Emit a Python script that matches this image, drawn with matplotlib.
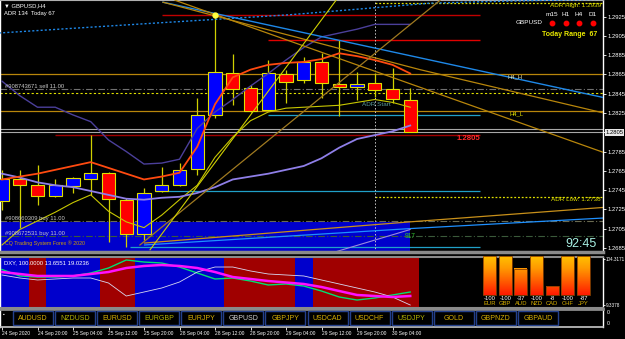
import matplotlib
matplotlib.use("Agg")
import matplotlib.pyplot as plt
import numpy as np
from matplotlib.patches import Rectangle
from matplotlib.colors import LinearSegmentedColormap

plt.rcParams['font.family'] = ['Liberation Sans', 'DejaVu Sans']

W, H = 625, 339
X0, BAR_PX = 2.0, 17.75   # pixel centre of bar 0 and bar spacing

# ---------------- GBPUSD H4 (bar 0 = 24 Sep 12:00) ----------------
opens  = [1.2734, 1.2756, 1.2750, 1.2739, 1.2749, 1.2756, 1.2763, 1.2735, 1.2699, 1.2744, 1.2750, 1.2767,
          1.2823, 1.2867, 1.2851, 1.2828, 1.2865, 1.2859, 1.2878, 1.2855, 1.2852, 1.2856, 1.2850, 1.2839]
highs  = [1.2766, 1.2766, 1.2771, 1.2756, 1.2759, 1.2802, 1.2764, 1.2737, 1.2747, 1.2769, 1.2773, 1.2841,
          1.2927, 1.2886, 1.2854, 1.2880, 1.2870, 1.2883, 1.2887, 1.2901, 1.2868, 1.2867, 1.2872, 1.2851]
lows   = [1.2724, 1.2706, 1.2730, 1.2738, 1.2742, 1.2740, 1.2691, 1.2686, 1.2693, 1.2743, 1.2749, 1.2761,
          1.2820, 1.2833, 1.2826, 1.2827, 1.2835, 1.2856, 1.2841, 1.2822, 1.2839, 1.2842, 1.2835, 1.2805]
closes = [1.2756, 1.2750, 1.2739, 1.2750, 1.2757, 1.2763, 1.2736, 1.2699, 1.2742, 1.2750, 1.2766, 1.2823,
          1.2868, 1.2850, 1.2827, 1.2866, 1.2857, 1.2878, 1.2856, 1.2852, 1.2855, 1.2849, 1.2840, 1.2805]

ma_orange  = [1.2756, 1.2759, 1.2762, 1.2766, 1.2770, 1.2774, 1.2768, 1.2762, 1.2756, 1.2759, 1.2763, 1.2790,
              1.2834, 1.2862, 1.2870, 1.2875, 1.2877, 1.2878, 1.2881, 1.2887, 1.2884, 1.2880, 1.2875, 1.2866]
band_upper = [1.2858, 1.2843, 1.2831, 1.2831, 1.2823, 1.2816, 1.2797, 1.2785, 1.2772, 1.2773, 1.2777, 1.2809,
              1.2826, 1.2839, 1.2853, 1.2866, 1.2880, 1.2893, 1.2904, 1.2908, 1.2912, 1.2917, 1.2917, 1.2917]
band_lower = [1.2762, 1.2758, 1.2753, 1.2750, 1.2748, 1.2744, 1.2740, 1.2736, 1.2735, 1.2737, 1.2738, 1.2742,
              1.2748, 1.2756, 1.2759, 1.2762, 1.2766, 1.2770, 1.2778, 1.2789, 1.2798, 1.2802, 1.2806, 1.2812]
ma_yellow  = [1.2688, 1.2704, 1.2713, 1.2722, 1.2732, 1.2740, 1.2723, 1.2712, 1.2706, 1.2719, 1.2735, 1.2750,
              1.2779, 1.2800, 1.2817, 1.2826, 1.2830, 1.2831, 1.2832, 1.2833, 1.2836, 1.2839, 1.2836, 1.2831]

# trend lines as (bar, price) points
tl_blue      = ([9.07, 33.9], [1.2940, 1.2841])
tl_blue_dot  = ([-0.2, 8.34, 16.23, 24.11, 28.06, 33.9], [1.2908, 1.2918, 1.2927, 1.2939, 1.2941, 1.2943])
tl_gold_1    = ([9.07, 23.55, 33.9], [1.2940, 1.2870, 1.2825])
tl_gold_2    = ([9.75, 33.9], [1.2942, 1.2784])
tl_tan_up    = ([7.77, 24.68], [1.2688, 1.2942])
tl_yellow_up = ([8.34, 18.82], [1.2683, 1.2942])
tl_zone_tan  = ([8.03, 22.99, 33.9], [1.2690, 1.2712, 1.2727])
tl_zone_blue = ([8.03, 22.99, 33.9], [1.2688, 1.2705, 1.2716])
tl_zone_lav  = ([17.9, 22.99], [1.2676, 1.2704])

ask_price, bid_price = 1.2808, 1.2805
h4_high, h4_low = 1.28655, 1.28271
adr_high, adr_low = 1.2939, 1.2738
sell_line, sell_dot = 1.2850, 1.2846
buy_lines = [1.2713, 1.2697]
zone_top = 1.2712
red_levels = [(1.2927, 9.0), (1.2901, 15.0)]
cyan_levels = [(1.2823, 15.0), (1.2744, 8.6), (1.2686, 7.2)]
level_end = 26.93
adr_start_bar = 21

price_ticks = [1.2685, 1.2705, 1.2725, 1.2745, 1.2765, 1.2785, 1.2805, 1.2825, 1.2845, 1.2865, 1.2885,
               1.2905, 1.2925]
date_ticks = [0, 2, 4, 6, 8, 10, 12, 14, 16, 18, 20, 22]
date_labels = ["24 Sep 2020", "24 Sep 20:00", "25 Sep 04:00", "25 Sep 12:00", "25 Sep 20:00", "28 Sep 04:00",
               "28 Sep 12:00", "28 Sep 20:00", "29 Sep 04:00", "29 Sep 12:00", "29 Sep 20:00", "30 Sep 04:00"]

# ---------------- DXY sub window ----------------
dxy_green   = [81.1, 68.0, 65.9, 65.9, 68.0, 74.0, 84.1, 100.3, 96.2, 94.2, 86.1, 74.0,
               61.9, 63.9, 57.8, 49.8, 51.8, 47.7, 37.6, 25.5, 19.4, 23.5, 29.6, 35.6]
dxy_magenta = [76.0, 72.0, 68.0, 68.0, 68.0, 72.0, 76.0, 84.1, 88.2, 90.2, 88.2, 84.1,
               76.0, 65.9, 61.9, 57.8, 54.8, 51.8, 45.7, 37.6, 29.6, 27.5, 25.5, 27.5]
dxy_white   = [70.0, 63.9, 59.9, 61.9, 63.9, 63.9, 53.8, 27.5, 35.6, 43.7, 55.8, 76.0,
               86.1, 86.1, 78.1, 72.0, 70.0, 68.0, 59.9, 51.8, 43.7, 35.6, 25.5, 9.3]
dxy_trend = ['up', 'up', 'down', 'up', 'up', 'up', 'down', 'down', 'up', 'up', 'up', 'up',
             'up', 'down', 'down', 'down', 'down', 'up', 'down', 'down', 'down', 'down', 'down', 'down']
dxy_min, dxy_max = 9.3378, 104.3171

cur_names  = ["EUR", "GBP", "AUD", "NZD", "CAD", "CHF", "JPY"]
cur_values = [-100, -100, -37, -100, -8, -100, -87]
cur_levels = [100, 100, 67, 100, 23, 100, 100]

pairs = ["AUDUSD", "NZDUSD", "EURUSD", "EURGBP", "EURJPY", "GBPUSD", "GBPJPY",
         "USDCAD", "USDCHF", "USDJPY", "GOLD", "GBPNZD", "GBPAUD"]
pair_colors = ['#d8b000', '#b4b400', '#d8b000', '#b4b400', '#d8b000', '#d0d0d0', '#d8b000',
               '#d8b000', '#d8b000', '#b4b400', '#d8b000', '#d8b000', '#d8b000']


def rect(x0, y0, x1, y1):
    return [x0 / W, 1 - y1 / H, (x1 - x0) / W, (y1 - y0) / H]


def bx(px):
    return (px - X0) / BAR_PX


FS = 4.2
fig = plt.figure(figsize=(6.25, 3.39), dpi=100, facecolor='black')

# ================= main chart =================
ax = fig.add_axes(rect(0, 0, 603, 252), facecolor='black')
ax.set_xlim(bx(0), bx(603))
ax.set_ylim(1.26807, 1.29423)
idx = np.arange(len(opens))
o, c = np.array(opens), np.array(closes)

ax.add_patch(Rectangle((bx(0) - 1, 1.2670), 23.0 - bx(0) + 1, zone_top - 1.2670,
                       facecolor='#0000cc', edgecolor='none', zorder=0))

# horizontal levels
ax.axhline(ask_price, color='#a8a8a8', lw=0.8, zorder=1)
ax.axhline(bid_price, color='#a8a8a8', lw=0.8, zorder=1)
ax.hlines(bid_price - 0.0003, 3.0, level_end, color='#a00000', lw=1, zorder=1)
ax.axhline(h4_high, color='#b8860b', lw=0.9, zorder=1)
ax.axhline(h4_low, color='#b8860b', lw=0.9, zorder=1)
ax.axhline(sell_line, color='#707070', lw=0.8, ls=(0, (6, 2, 1, 2)), zorder=1)
ax.axhline(sell_dot, color='#e0e000', lw=0.8, ls=(0, (2, 2)), zorder=1)
ax.axhline(buy_lines[0], color='#6a6a50', lw=0.8, ls=(0, (6, 2, 1, 2)), zorder=1)
ax.axhline(buy_lines[1], color='#3a5a3a', lw=0.8, ls=(0, (6, 2, 1, 2)), zorder=1)
for k, (p, start) in enumerate(red_levels):
    ax.hlines(p, start, level_end, color=['#c00000', '#e00000'][k], lw=1, zorder=1)
for p, start in cyan_levels:
    ax.hlines(p, start, level_end, color='#20a0c8', lw=0.9, zorder=1)
ax.hlines([adr_high, adr_low], adr_start_bar, bx(603), color='#e0e000', lw=0.9, ls=(0, (1.5, 1.5)), zorder=1)
ax.axvline(adr_start_bar, color='#c8c8c8', lw=0.7, ls=(0, (1.5, 2)), zorder=1)

# zone lines
ax.plot(*tl_zone_tan, color='#c8901a', lw=0.9, zorder=2)
ax.plot(*tl_zone_blue, color='#1e90ff', lw=0.9, zorder=2)
ax.plot(*tl_zone_lav, color='#9a8ae0', lw=0.8, zorder=2)

# candles
colors = ['#0000ff' if cl >= op else '#ff0000' for op, cl in zip(opens, closes)]
ax.vlines(idx, lows, highs, color='#d0d000', lw=0.9, zorder=3)
ax.bar(idx, np.abs(c - o), bottom=np.minimum(o, c), width=0.74, color=colors,
       edgecolor='#e0e000', linewidth=0.8, zorder=4)

# indicators and trend lines
ax.plot(idx, ma_yellow, color='#c8c800', lw=0.8, zorder=5)
ax.plot(idx, band_upper, color='#4b3f9a', lw=1.0, zorder=5)
ax.plot(idx, band_lower, color='#8f7fe8', lw=1.3, zorder=5)
ax.plot(idx, ma_orange, color='#ff4a10', lw=1.3, zorder=5)
ax.plot(*tl_blue, color='#1e88e8', lw=1.0, zorder=5)
ax.plot(*tl_blue_dot, color='#1e88e8', lw=1.0, ls=(0, (1.5, 1.5)), zorder=5)
ax.plot(*tl_gold_1, color='#b8860b', lw=0.9, zorder=5)
ax.plot(*tl_gold_2, color='#b8860b', lw=0.9, zorder=5)
ax.plot(*tl_tan_up, color='#a07a20', lw=0.9, zorder=5)
ax.plot(*tl_yellow_up, color='#d0d000', lw=0.8, zorder=5)
ax.plot(12, highs[12], 'o', color='#ffff40', ms=3.5, zorder=6)

# texts on chart
ax.text(bx(508), h4_high, "H4_H", color='#e0e0b0', fontsize=FS, va='top', zorder=7)
ax.text(bx(510), h4_low, "H4_L", color='#e8e800', fontsize=FS, va='top', zorder=7)
ax.text(bx(362), 1.28333, "ADR Start", color='#5a9a9a', fontsize=4.6, va='center', zorder=7)
ax.text(bx(457), bid_price - 0.0006, "1.2805", color='#ff2a2a', fontsize=5.6, fontweight='bold',
        va='center', zorder=7)
ax.text(bx(5), sell_line, "#908743671 sell 11.00", color='#c8c8c8', fontsize=FS, va='bottom', zorder=7)
ax.text(bx(5), buy_lines[0], "#908660309 buy 11.00", color='#c8c8c8', fontsize=FS, va='bottom', zorder=7)
ax.text(bx(5), buy_lines[1], "#908672531 buy 11.00", color='#c8c8c8', fontsize=FS, va='bottom', zorder=7)
ax.text(bx(5), 1.2690, "CQ Trading System Forex \u00ae 2020", color='#d0a000', fontsize=3.8,
        va='center', zorder=7)
ax.text(bx(405), buy_lines[1], "917", color='#30c030', fontsize=4.8, va='center', zorder=7)
ax.text(bx(601), adr_high, "ADR High: 1.2939", color='#e0e000', fontsize=4.6, ha='right', va='top', zorder=7)
ax.text(bx(601), adr_low, "ADR Low: 1.2738", color='#e0e000', fontsize=4.6, ha='right', va='top', zorder=7)

ax.yaxis.tick_right()
ax.set_yticks(price_ticks)
# the 1.2805 slot is covered by the current-price box
ax.set_yticklabels(['' if abs(p - bid_price) < 1e-6 else f"{p:.4f}" for p in price_ticks])
ax.tick_params(axis='y', colors='white', labelsize=FS, length=2, pad=1.2, width=0.6)
ax.set_xticks([])
ax.text(1.004, bid_price, "1.2805", transform=ax.get_yaxis_transform(), fontsize=FS, color='black',
        va='center', ha='left', bbox=dict(boxstyle='square,pad=0.15', fc='#e8e8e8', ec='none'), zorder=8,
        clip_on=False)
for side, col, lw in [('left', 'white', 1), ('top', '#b0b0b0', 0.8), ('right', 'white', 1),
                      ('bottom', '#8a8a8a', 2.5)]:
    ax.spines[side].set_color(col)
    ax.spines[side].set_linewidth(lw)

# ================= DXY window =================
ind = fig.add_axes(rect(0, 257, 603, 308), facecolor='black')
ind.set_xlim(bx(0), bx(603))
step = (dxy_max - dxy_min) / 47.0
ind.set_ylim(dxy_min - 3 * step, dxy_max + 1 * step)
for i, t in enumerate(dxy_trend):
    ind.axvspan(i - 0.5, i + 0.5, color='#0000cc' if t == 'up' else '#a00000', lw=0, zorder=0)
ind.plot(idx, dxy_green, color='#00e070', lw=1.0, zorder=2)
ind.plot(idx, dxy_white, color='#d8d8f0', lw=0.6, zorder=3)
ind.plot(idx, dxy_magenta, color='#ff10ff', lw=1.8, zorder=4)
ind.text(bx(4), dxy_max - 2 * step, "DXY, 100.0000 13.6551 19.0236", color='white', fontsize=FS, va='top')
ind.yaxis.tick_right()
ind.set_yticks([dxy_min, dxy_max - 0.8 * step])
ind.set_yticklabels([f"{dxy_min:.4f}", f"{dxy_max:.4f}"])
ind.tick_params(axis='y', colors='white', labelsize=3.3, length=1.2, pad=0.6, width=0.6)
ind.set_xticks([])
for side, col, lw in [('left', 'white', 1), ('top', '#8a8a8a', 1.5), ('right', 'white', 1),
                      ('bottom', '#8a8a8a', 1.5)]:
    ind.spines[side].set_color(col)
    ind.spines[side].set_linewidth(lw)

# currency strength
st = fig.add_axes(rect(481.7, 256, 591.4, 308), facecolor='none')
cmap = LinearSegmentedColormap.from_list('heat', ['#ff1a00', '#ff5a00', '#ff9800', '#ffc400'])
for k, lev in enumerate(cur_levels):
    grad = np.linspace(0, lev / 100, 60).reshape(-1, 1)
    st.imshow(grad, extent=(k - 0.41, k + 0.41, 0, lev), origin='lower', aspect='auto',
              cmap=cmap, vmin=0, vmax=1, zorder=2)
    st.add_patch(Rectangle((k - 0.41, 0), 0.82, lev, fill=False, ec='#8a4000', lw=0.6, zorder=3))
    st.text(k, -7.7, str(cur_values[k]), color='white', fontsize=FS, ha='center', va='center')
    st.text(k, -20.5, cur_names[k], color='#d8b000', fontsize=FS, ha='center', va='center')
st.set_xlim(-0.5, 6.5)
st.set_ylim(-33.3, 100)
st.axis('off')

# ================= buttons + time axis =================
dax = fig.add_axes(rect(0, 309, 603, 327), facecolor='black')
dax.set_xlim(bx(0), bx(603))
dax.set_ylim(0, 1)
dax.set_xticks(date_ticks)
dax.set_xticklabels(date_labels, ha='left')
dax.tick_params(axis='x', colors='white', labelsize=3.5, length=2, pad=1.2, width=0.6)
dax.yaxis.tick_right()
dax.set_yticks([0.22, 0.83])
dax.set_yticklabels(['0', '0'])
dax.tick_params(axis='y', colors='white', labelsize=3.8, length=0, pad=3)
for side, col, lw in [('left', 'white', 1), ('top', '#8a8a8a', 2.0), ('right', 'white', 1),
                      ('bottom', '#c8c8c8', 1.2)]:
    dax.spines[side].set_color(col)
    dax.spines[side].set_linewidth(lw)

bax = fig.add_axes(rect(0, 309, 603, 327), facecolor='none')
bax.set_xlim(0, 603)
bax.set_ylim(327, 309)
bax.axis('off')
for k, name in enumerate(pairs):
    left = 13 + 42.08 * k
    bax.add_patch(Rectangle((left, 311), 40, 14, fc='black', ec='#24408c', lw=1.0))
    bax.text(left + 20, 318.3, name, color=pair_colors[k], fontsize=5.0, ha='center', va='center')
bax.text(4, 314, "\u25aa", color='white', fontsize=3.5, ha='center', va='center')

# ================= overlay texts =================
ov = fig.add_axes([0, 0, 1, 1], facecolor='none')
ov.set_xlim(0, W)
ov.set_ylim(H, 0)
ov.axis('off')
ov.text(4, 5.5, "\u25bc GBPUSD,H4", color='white', fontsize=FS, va='center')
ov.text(4, 13.5, "ADR 134  Today 67", color='white', fontsize=FS, va='center')
tf_labels = ["m15", "H1", "H4", "D1"]
tf_x = [552, 566, 579, 593]
for lab, x in zip(tf_labels, tf_x):
    ov.text(x, 15, lab, color='white', fontsize=4.6, ha='center', va='center')
ov.plot(tf_x, [23] * len(tf_x), 'o', color='#ff0000', ms=3.2)
ov.text(529, 23, "GBPUSD", color='white', fontsize=4.6, ha='center', va='center')
ov.text(597, 34.5, "Today Range  67", color='#e8e800', fontsize=5.0, fontweight='bold', ha='right', va='center')
ov.text(597, 244, "92:45", color='#a8f0e4', fontsize=9, ha='right', va='center')

fig.savefig("out.png", dpi=100, facecolor='black')
